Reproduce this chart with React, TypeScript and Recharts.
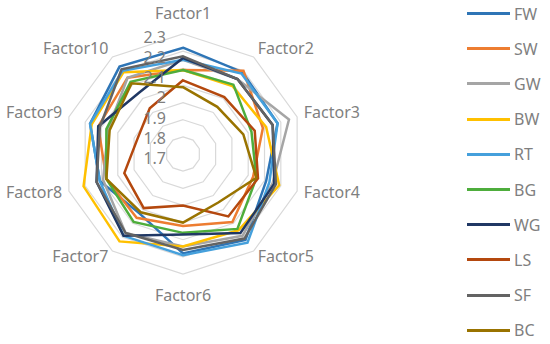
import {
  RadarChart,
  Radar,
  PolarGrid,
  PolarAngleAxis,
  PolarRadiusAxis,
} from "recharts"

const factors = [
  "Factor1", "Factor2", "Factor3", "Factor4", "Factor5",
  "Factor6", "Factor7", "Factor8", "Factor9", "Factor10",
]

const FW = [2.22, 2.19, 2.18, 2.11, 2.22, 2.18, 2.03, 2.11, 2.17, 2.23]
const SW = [2.09, 2.2, 2.09, 2.03, 2.09, 2.02, 2.06, 2.07, 2.12, 2.15]
const GW = [2.15, 2.14, 2.25, 2.15, 2.19, 2.14, 2.17, 2.09, 2.06, 2.15]
const BW = [2.09, 2.09, 2.11, 2.19, 2.15, 2.14, 2.23, 2.21, 2.16, 2.19]
const RT = [2.15, 2.18, 2.18, 2.13, 2.24, 2.19, 2.19, 2.11, 2.17, 2.2]
const BG = [2.09, 2.1, 2.02, 2.05, 2.14, 2.06, 2.09, 2.07, 2.07, 2.12]
const WG = [2.16, 2.14, 2.15, 2.16, 2.17, 2.07, 2.19, 2.13, 2.12, 2.04]
const LS = [2.03, 2.01, 2.04, 2.06, 2.05, 1.9, 1.99, 1.96, 1.88, 1.93]
const SF = [2.17, 2.14, 2.15, 2.17, 2.21, 2.16, 2.17, 2.13, 2.11, 2.21]
const BC = [1.99, 1.94, 1.97, 2.05, 1.95, 2.0, 2.02, 2.07, 2.05, 2.11]

const radiusTicks = [1.6, 1.7, 1.8, 1.9, 2, 2.1, 2.2, 2.3]

const SERIES: Record<string, number[]> = { FW, SW, GW, BW, RT, BG, WG, LS, SF, BC }

const SERIES_COLORS: Record<string, string> = {
  FW: "#2E75B6",
  SW: "#ED7D31",
  GW: "#A5A5A5",
  BW: "#FFC000",
  RT: "#45A0DC",
  BG: "#4EAD3C",
  WG: "#203864",
  LS: "#B4480E",
  SF: "#636363",
  BC: "#997300",
}

const data = factors.map((factor, i) => {
  const row: Record<string, string | number> = { factor }
  Object.keys(SERIES).forEach((k) => {
    row[k] = SERIES[k][i]
  })
  return row
})

const CX = 183
const CY = 154
const R = 120
const FONT = "'Noto Sans', sans-serif"
const TEXT = "#7f7f7f"

const AngleTick = ({ x, y, payload }: { x?: number; y?: number; payload?: { value: string } }) => {
  const dx = (x ?? 0) - CX
  const dy = (y ?? 0) - CY
  const len = Math.hypot(dx, dy) || 1
  const ux = dx / len
  const uy = dy / len
  let tx = CX + ux * R
  let ty = CY + uy * R
  let anchor: "start" | "middle" | "end" = "middle"
  if (Math.abs(ux) < 0.1) {
    ty += uy * 21
  } else {
    anchor = ux > 0 ? "start" : "end"
    tx += ux * 7
    ty += uy * 8 - 2
  }
  return (
    <text x={tx} y={ty} textAnchor={anchor} dominantBaseline="central" fill={TEXT} fontSize={16} fontFamily={FONT}>
      {payload?.value}
    </text>
  )
}

// labels sit a little below their rings, spreading out towards the centre
const RadiusTick = ({ x, y, payload }: { x?: number; y?: number; payload?: { value: number } }) => {
  if (!payload || payload.value <= 1.6) return null
  const shift = 3 + (2.3 - payload.value) * 30
  return (
    <text x={(x ?? 0) - 17} y={(y ?? 0) + shift} textAnchor="end" dominantBaseline="central" fill={TEXT} fontSize={16} fontFamily={FONT}>
      {payload.value}
    </text>
  )
}

const CustomLegend = () => (
  <ul
    style={{
      position: "absolute",
      left: 467,
      top: -4,
      margin: 0,
      padding: 0,
      listStyle: "none",
      fontFamily: FONT,
      fontSize: 16,
      color: TEXT,
    }}
  >
    {Object.keys(SERIES).map((name) => (
      <li key={name} style={{ display: "flex", alignItems: "center", height: 35.2 }}>
        <span style={{ display: "inline-block", width: 43, height: 3, backgroundColor: SERIES_COLORS[name], marginRight: 4 }} />
        <span>{name}</span>
      </li>
    ))}
  </ul>
)

export default function App() {
  return (
    <div style={{ position: "absolute", left: 0, top: 0, width: 550, height: 344, background: "#fff" }}>
      <RadarChart
        width={550}
        height={344}
        data={data}
        cx={CX}
        cy={CY}
        outerRadius={R}
        margin={{ top: 0, right: 0, bottom: 0, left: 0 }}
      >
        <PolarGrid gridType="polygon" radialLines={false} stroke="#d9d9d9" strokeWidth={1.2} />
        <PolarAngleAxis dataKey="factor" tick={<AngleTick />} tickLine={false} axisLine={false} />
        <PolarRadiusAxis
          angle={90}
          domain={[1.6, 2.3]}
          ticks={radiusTicks}
          tick={<RadiusTick />}
          axisLine={false}
          tickLine={false}
        />
        {Object.keys(SERIES).map((name) => (
          <Radar
            key={name}
            name={name}
            dataKey={name}
            stroke={SERIES_COLORS[name]}
            strokeWidth={2.5}
            fill="none"
            fillOpacity={0}
            dot={false}
            isAnimationActive={false}
          />
        ))}
      </RadarChart>
      <CustomLegend />
    </div>
  )
}
